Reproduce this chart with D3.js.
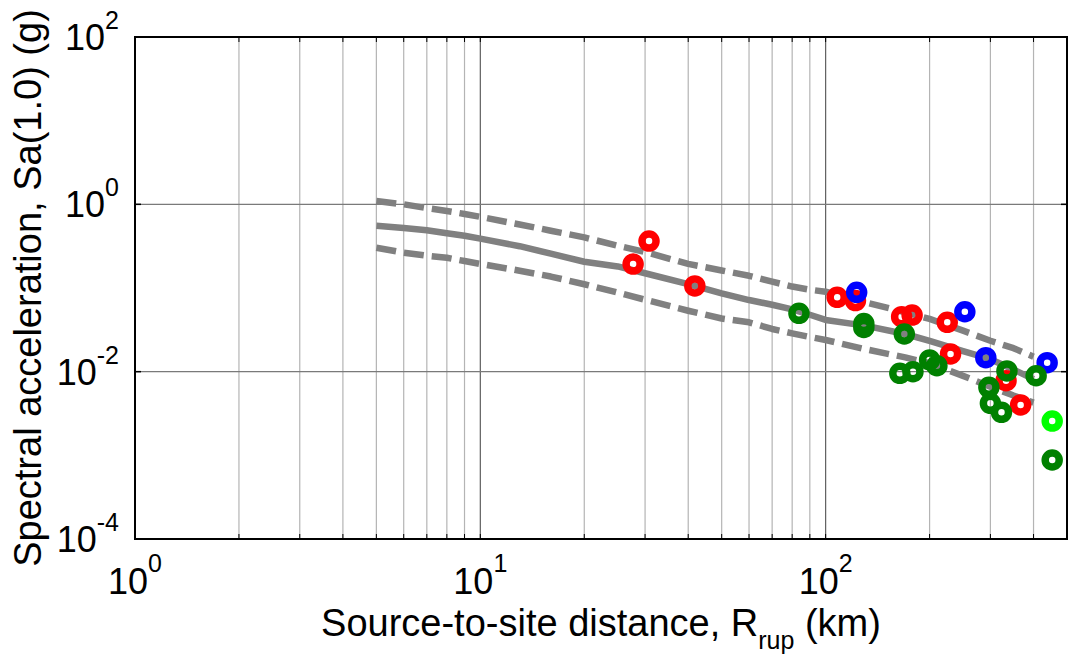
<!DOCTYPE html>
<html>
<head>
<meta charset="utf-8">
<script src="https://cdn.jsdelivr.net/npm/d3@7"></script>
<style>
  html, body { margin: 0; padding: 0; background: #fff; }
  svg { display: block; }
  text { font-family: "Liberation Sans", Arial, Helvetica, sans-serif; fill: #000; }
</style>
</head>
<body>
<svg id="chart" width="1068" height="666"></svg>
<script>
// Ground-motion model curves: median and +/- one sigma, Sa(1.0) in g vs Rrup in km
const distance = [5, 6, 7, 8, 9, 10, 13, 16, 20, 25, 30, 40, 50, 60, 70, 80, 90, 100, 130, 170, 200, 250, 300, 350, 400];
const medianSa = [0.555, 0.522, 0.490, 0.452, 0.422, 0.389, 0.316, 0.257, 0.206, 0.181, 0.150, 0.111, 0.0863, 0.0718, 0.0631, 0.0556, 0.0479, 0.0415, 0.0355, 0.0282, 0.0234, 0.0176, 0.0141, 0.0106, 0.00813];
const upperSa  = [1.094, 1.000, 0.902, 0.832, 0.767, 0.708, 0.575, 0.484, 0.403, 0.320, 0.269, 0.194, 0.162, 0.140, 0.119, 0.104, 0.0955, 0.0902, 0.0676, 0.0513, 0.0427, 0.0309, 0.0234, 0.0191, 0.0151];
const lowerSa  = [0.303, 0.264, 0.243, 0.230, 0.210, 0.194, 0.161, 0.137, 0.111, 0.0881, 0.0724, 0.0535, 0.0432, 0.0389, 0.0324, 0.0287, 0.0260, 0.0239, 0.0186, 0.0148, 0.0126, 0.00891, 0.00661, 0.00519, 0.00427];

// Recorded motions, grouped by colour
const redR   = [27.7, 30.8, 41.8, 108, 122, 166, 178, 225, 230, 333, 367];
const redSa  = [0.193, 0.364, 0.106, 0.0774, 0.0708, 0.0454, 0.0475, 0.0389, 0.0163, 0.0078, 0.0040];
const blueR  = [123, 253, 291, 438];
const blueSa = [0.0887, 0.052, 0.0147, 0.0128];
const greenR  = [83.7, 129, 129, 169, 164, 179, 200, 210, 335, 297, 300, 323, 407, 453];
const greenSa = [0.0498, 0.0376, 0.0337, 0.0282, 0.00955, 0.00998, 0.0138, 0.0118, 0.0102, 0.0065, 0.00418, 0.00327, 0.00894, 0.00088];
const limeR  = [453];
const limeSa = [0.00257];

// Axis limits and labelled ticks
const xDomain = [1, 500];
const yDomain = [1e-4, 1e2];
const xTickExp = [0, 1, 2];
const yTickExp = [-4, -2, 0, 2];

const svg = d3.select("#chart");
const plot = { left: 135, right: 1067, top: 37, bottom: 539 };

const x = d3.scaleLog().domain(xDomain).range([plot.left, plot.right]);
const y = d3.scaleLog().domain(yDomain).range([plot.bottom, plot.top]);

// Vertical grid: every 1..9 x 10^k inside the range
const xGrid = [];
for (let k = 0; k <= 2; k++) {
  for (let m = 1; m <= 9; m++) {
    const v = m * Math.pow(10, k);
    if (v > xDomain[0] && v < xDomain[1]) xGrid.push(v);
  }
}
const isDecade = d => Math.abs(Math.log10(d) - Math.round(Math.log10(d))) < 1e-9;
const grid = svg.append("g");
grid.selectAll("line.vx").data(xGrid).join("line")
  .attr("x1", d => x(d)).attr("x2", d => x(d))
  .attr("y1", plot.top).attr("y2", plot.bottom)
  .attr("stroke", d => isDecade(d) ? "#5e5e5e" : "#b4b4b4")
  .attr("stroke-width", 1.2);

// Horizontal grid at labelled decades
grid.selectAll("line.hy").data(yTickExp.filter(e => e > -4 && e < 2)).join("line")
  .attr("x1", plot.left).attr("x2", plot.right)
  .attr("y1", d => y(Math.pow(10, d))).attr("y2", d => y(Math.pow(10, d)))
  .attr("stroke", "#7a7a7a").attr("stroke-width", 1.2);

// Model curves
const line = d3.line().x(d => x(d[0])).y(d => y(d[1]));
const curves = [
  { vals: upperSa, dash: "20,8" },
  { vals: lowerSa, dash: "20,8" },
  { vals: medianSa, dash: null }
];
svg.append("g").selectAll("path").data(curves).join("path")
  .attr("d", c => line(distance.map((r, i) => [r, c.vals[i]])))
  .attr("fill", "none")
  .attr("stroke", "#808080")
  .attr("stroke-width", 6.5)
  .attr("stroke-linejoin", "round")
  .attr("stroke-dasharray", c => c.dash);

// Recorded motions as open circles
const groups = [
  { r: redR, sa: redSa, color: "#ff0000" },
  { r: blueR, sa: blueSa, color: "#0000ff" },
  { r: greenR, sa: greenSa, color: "#008000" },
  { r: limeR, sa: limeSa, color: "#00ff00" }
];
const marks = svg.append("g");
groups.forEach(g => {
  marks.append("g").selectAll("circle").data(g.r.map((r, i) => [r, g.sa[i]])).join("circle")
    .attr("cx", d => x(d[0])).attr("cy", d => y(d[1]))
    .attr("r", 7)
    .attr("fill", "none")
    .attr("stroke", g.color)
    .attr("stroke-width", 7.5);
});

// Axes: inward ticks on all four sides
const axes = svg.append("g");
const xTickVals = xGrid.concat([1]);
axes.selectAll("line.tb").data(xTickVals).join("line")
  .attr("x1", d => x(d)).attr("x2", d => x(d))
  .attr("y1", plot.bottom).attr("y2", plot.bottom - 5)
  .attr("stroke", "#000").attr("stroke-width", 1);
axes.selectAll("line.tt").data(xTickVals).join("line")
  .attr("x1", d => x(d)).attr("x2", d => x(d))
  .attr("y1", plot.top).attr("y2", plot.top + 5)
  .attr("stroke", "#000").attr("stroke-width", 1);
const yTickVals = yTickExp.map(e => Math.pow(10, e));
axes.selectAll("line.tl").data(yTickVals).join("line")
  .attr("x1", plot.left).attr("x2", plot.left + 6)
  .attr("y1", d => y(d)).attr("y2", d => y(d))
  .attr("stroke", "#000").attr("stroke-width", 1.5);
axes.selectAll("line.tr").data(yTickVals).join("line")
  .attr("x1", plot.right).attr("x2", plot.right - 6)
  .attr("y1", d => y(d)).attr("y2", d => y(d))
  .attr("stroke", "#000").attr("stroke-width", 1.5);

axes.append("rect")
  .attr("x", plot.left).attr("y", plot.top)
  .attr("width", plot.right - plot.left).attr("height", plot.bottom - plot.top)
  .attr("fill", "none").attr("stroke", "#000").attr("stroke-width", 2);

// Tick labels as powers of ten
const xLab = svg.append("g").selectAll("text").data(xTickExp).join("text")
  .attr("x", d => x(Math.pow(10, d)))
  .attr("y", 594)
  .attr("text-anchor", "middle")
  .style("font-size", "36px");
xLab.append("tspan").text("10");
xLab.append("tspan").attr("dy", -22).style("font-size", "25px").text(d => d);

const yLab = svg.append("g").selectAll("text").data(yTickExp).join("text")
  .attr("x", 119)
  .attr("y", d => y(Math.pow(10, d)) + 13)
  .attr("text-anchor", "end")
  .style("font-size", "36px");
yLab.append("tspan").text("10");
yLab.append("tspan").attr("dy", -21).style("font-size", "25px").text(d => d);

// Axis titles
const xTitle = svg.append("text")
  .attr("x", (plot.left + plot.right) / 2)
  .attr("y", 636)
  .attr("text-anchor", "middle")
  .style("font-size", "38px");
xTitle.append("tspan").text("Source-to-site distance, R");
xTitle.append("tspan").attr("dy", 13).style("font-size", "25px").text("rup");
xTitle.append("tspan").attr("dy", -13).text(" (km)");

svg.append("text")
  .attr("transform", `translate(41, ${(plot.top + plot.bottom) / 2}) rotate(-90)`)
  .attr("text-anchor", "middle")
  .style("font-size", "38px")
  .text("Spectral acceleration, Sa(1.0) (g)");
</script>
</body>
</html>
